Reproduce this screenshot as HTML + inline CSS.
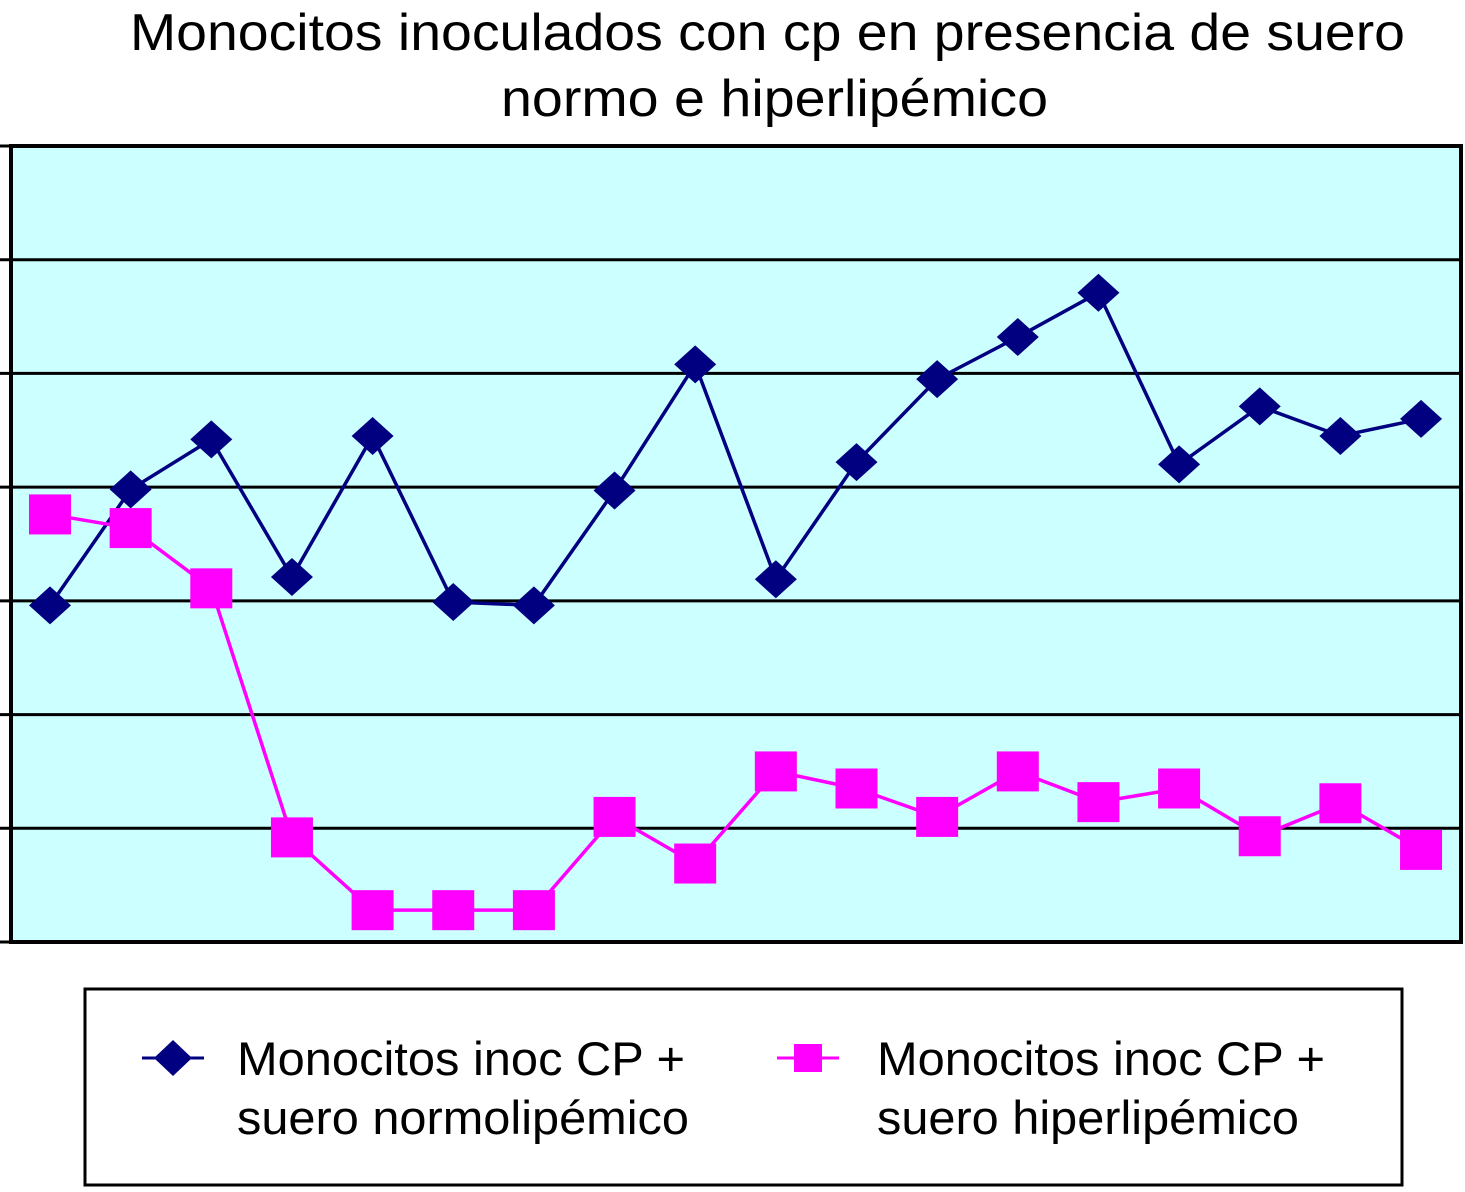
<!DOCTYPE html>
<html><head><meta charset="utf-8"><style>
body{margin:0;background:#fff;width:1465px;height:1187px;overflow:hidden}
svg text{font-family:"Liberation Sans",Arial,sans-serif}
</style></head><body>
<svg id="c" width="1465" height="1187">
<text x="130" y="50" font-size="52" textLength="1275" lengthAdjust="spacingAndGlyphs">Monocitos inoculados con cp en presencia de suero</text>
<text x="501" y="116" font-size="52" textLength="547" lengthAdjust="spacingAndGlyphs">normo e hiperlipémico</text>
<rect x="11" y="146" width="1450" height="796" fill="#ccffff"/>
<g id="grid"></g>
<g id="series"></g>
<rect x="11" y="146" width="1450" height="796" fill="none" stroke="#000" stroke-width="4"/>
<rect x="85" y="989" width="1317" height="196" fill="#fff" stroke="#000" stroke-width="3"/>
<g>
<line x1="142" y1="1058" x2="204" y2="1058" stroke="#000080" stroke-width="3"/>
<polygon points="173,1040 192,1058 173,1076 154,1058" fill="#000080"/>
<text x="237" y="1075" font-size="47" textLength="448" lengthAdjust="spacingAndGlyphs">Monocitos inoc CP +</text>
<text x="237" y="1134" font-size="47" textLength="452" lengthAdjust="spacingAndGlyphs">suero normolipémico</text>
</g>
<g>
<line x1="777" y1="1058" x2="839" y2="1058" stroke="#ff00ff" stroke-width="3"/>
<rect x="794" y="1044" width="28" height="28" fill="#ff00ff"/>
<text x="877" y="1075" font-size="47" textLength="448" lengthAdjust="spacingAndGlyphs">Monocitos inoc CP +</text>
<text x="877" y="1134" font-size="47" textLength="422" lengthAdjust="spacingAndGlyphs">suero hiperlipémico</text>
</g>
</svg>
<script>
const categories=[1,2,3,4,5,6,7,8,9,10,11,12,13,14,15,16,17,18];
const normoValues=[2.96,3.98,4.42,3.21,4.45,2.99,2.96,3.97,5.08,3.19,4.22,4.95,5.32,5.71,4.20,4.71,4.45,4.60];
const hiperValues=[3.76,3.64,3.11,0.92,0.28,0.28,0.28,1.10,0.69,1.50,1.35,1.10,1.50,1.23,1.35,0.93,1.22,0.81];
const yTicks=[0,1,2,3,4,5,6,7];
const NS="http://www.w3.org/2000/svg";
const X0=50,DX=80.65,YB=942,YT=146,YMAX=7;
function xs(i){return X0+i*DX;}
function ys(v){return YB-v*(YB-YT)/YMAX;}
const grid=document.getElementById('grid');
yTicks.forEach(t=>{
  const l=document.createElementNS(NS,'line');
  l.setAttribute('x1',0);l.setAttribute('x2',1461);
  l.setAttribute('y1',ys(t));l.setAttribute('y2',ys(t));
  l.setAttribute('stroke','#000');l.setAttribute('stroke-width',3);
  
  
  grid.appendChild(l);
});
const g=document.getElementById('series');
function line(vals,color,name){
  const p=document.createElementNS(NS,'polyline');
  p.setAttribute('points',vals.map((v,i)=>xs(i)+','+ys(v)).join(' '));
  p.setAttribute('fill','none');p.setAttribute('stroke',color);p.setAttribute('stroke-width',3.5);
  
  
  g.appendChild(p);
}
line(normoValues,'#000080','normolipemico-line');
line(hiperValues,'#ff00ff','hiperlipemico-line');
normoValues.forEach((v,i)=>{
  const x=xs(i),y=ys(v);
  const d=document.createElementNS(NS,'polygon');
  d.setAttribute('points',`${x},${y-19} ${x+21},${y} ${x},${y+19} ${x-21},${y}`);
  d.setAttribute('fill','#000080');
  
  
  g.appendChild(d);
});
hiperValues.forEach((v,i)=>{
  const x=xs(i),y=ys(v);
  const r=document.createElementNS(NS,'rect');
  r.setAttribute('x',x-21);r.setAttribute('y',y-20);
  r.setAttribute('width',42);r.setAttribute('height',40);
  r.setAttribute('fill','#ff00ff');
  
  
  g.appendChild(r);
});
</script>
</body></html>
